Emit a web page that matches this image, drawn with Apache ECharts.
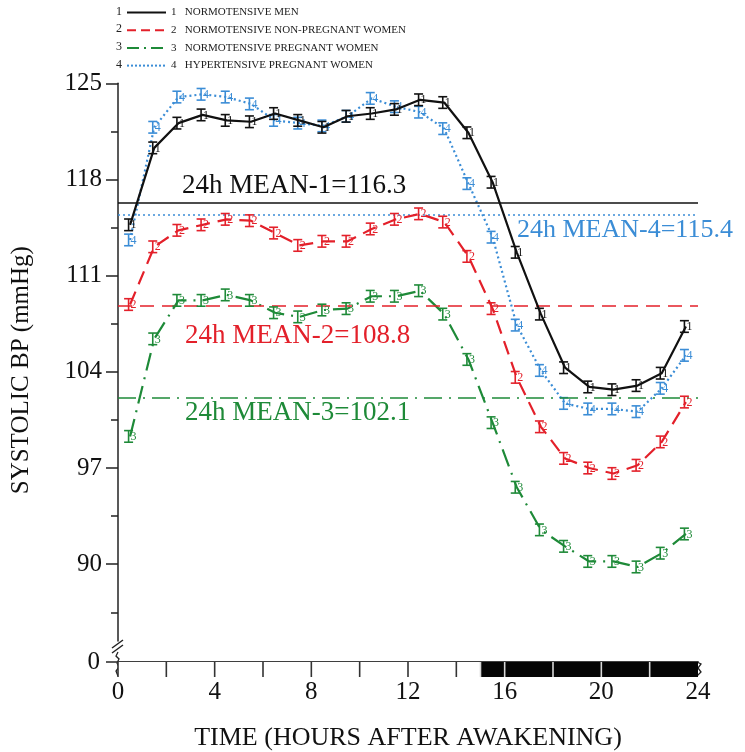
<!DOCTYPE html>
<html><head><meta charset="utf-8">
<script src="https://cdn.jsdelivr.net/npm/echarts@6/dist/echarts.min.js"></script>
<style>html,body{margin:0;padding:0;background:#fff}#c{width:745px;height:752px}</style>
</head><body><div id="c"></div>
<script>
const hours = [0.5,1.5,2.5,3.5,4.5,5.5,6.5,7.5,8.5,9.5,10.5,11.5,12.5,13.5,14.5,15.5,16.5,17.5,18.5,19.5,20.5,21.5,22.5,23.5];
const groupNames = ['NORMOTENSIVE MEN','NORMOTENSIVE NON-PREGNANT WOMEN','NORMOTENSIVE PREGNANT WOMEN','HYPERTENSIVE PREGNANT WOMEN'];
const groupNumbers = ['1','2','3','4'];
const normotensiveMen = [114.7,120.3,122.1,122.7,122.3,122.2,122.8,122.3,121.8,122.6,122.8,123.1,123.8,123.6,121.4,117.8,112.7,108.2,104.3,102.9,102.7,103.0,103.9,107.3];
const nonPregnantWomen = [108.9,113.1,114.3,114.7,115.1,115.0,114.1,113.2,113.5,113.5,114.4,115.1,115.5,114.9,112.4,108.6,103.6,100.0,97.7,97.0,96.6,97.2,98.9,101.8];
const pregnantWomen = [99.3,106.4,109.2,109.2,109.6,109.2,108.3,108.0,108.5,108.6,109.5,109.5,109.9,108.2,104.9,100.3,95.6,92.5,91.3,90.2,90.2,89.8,90.8,92.2];
const hypertensivePregnant = [113.6,121.8,124.0,124.2,124.0,123.5,122.3,122.1,121.9,122.6,123.9,123.3,122.9,121.7,117.7,113.8,107.4,104.1,101.7,101.3,101.3,101.1,102.8,105.2];
const meanValues = [116.3,108.8,102.1,115.4];
const seValues = [0.35,0.35,0.35,0.35];
const yMajorTicks = [90,97,104,111,118,125];
const yMinorTicks = [86.5,93.5,100.5,107.5,114.5,121.5];
const xTickInterval = 4;
const stripStart = [0,2,4,6,8,10,12,14,15,16,18,20,22];
const stripEnd   = [2,4,6,8,10,12,14,15,16,18,20,22,24];
const stripDark  = [0,0,0,0,0,0,0,0,1,1,1,1,1];

const FONT = 'Liberation Serif';
const colors = ['#111111','#e3202a','#1e8a38','#3b8dd6'];
const dashes = ['solid',[14,8],[18,7,2,7],[2,3]];
const legendDashes = ['solid',[9,5],[12,5,2,5],[2,2]];
const allValues = [normotensiveMen, nonPregnantWomen, pregnantWomen, hypertensivePregnant];
const meanLabelPos = [
  {position:'insideStartTop', distance:[64,3], size:27},
  {position:'insideStartBottom', distance:[67,17], size:27},
  {position:'insideStartBottom', distance:[67,1], size:27},
  {position:'insideStartBottom', distance:[399,2], size:26}
];

const chart = echarts.init(document.getElementById('c'), null, {renderer:'canvas'});
const series = [];
const drawOrder = [3,2,1,0];
drawOrder.forEach(function(i){
  const vals = allValues[i];
  series.push({
    name: groupNames[i], type:'line', xAxisIndex:0, yAxisIndex:0,
    data: hours.map(function(h,j){return [h, vals[j]];}),
    symbol:'none', smooth:false, z: 3 + (3-i),
    color: colors[i],
    lineStyle:{color:colors[i], width:2.2, type:dashes[i]},
    markLine:{
      silent:true, symbol:'none', animation:false,
      data:[{yAxis: meanValues[i]}],
      lineStyle:{color:colors[i], width:1.5, type:dashes[i]},
      label:{show:true, position:meanLabelPos[i].position, distance:meanLabelPos[i].distance,
        formatter: '24h MEAN-' + groupNumbers[i] + '=' + meanValues[i].toFixed(1),
        fontFamily:FONT, fontSize:meanLabelPos[i].size, color:colors[i]}
    }
  });
  series.push({
    name: groupNames[i], type:'custom', xAxisIndex:0, yAxisIndex:0, z: 4 + (3-i),
    data: hours.map(function(h,j){return [h, vals[j], seValues[i]];}),
    encode:{x:0, y:1},
    renderItem: function(params, api){
      const x = api.value(0), y = api.value(1), se = api.value(2);
      const c = api.coord([x, y]);
      const t = api.coord([x, y + se]);
      const b = api.coord([x, y - se]);
      const w = 4.5, col = colors[i];
      const st = {stroke:col, lineWidth:1.6};
      return {type:'group', children:[
        {type:'line', shape:{x1:c[0]-1.5, y1:t[1]-1, x2:c[0]-1.5, y2:b[1]+1}, style:st},
        {type:'line', shape:{x1:c[0]-1.5-w, y1:t[1]-1, x2:c[0]-1.5+w, y2:t[1]-1}, style:st},
        {type:'line', shape:{x1:c[0]-1.5-w, y1:b[1]+1, x2:c[0]-1.5+w, y2:b[1]+1}, style:st},
        {type:'text', style:{text:groupNumbers[i], x:c[0]+0.5, y:c[1]+0.5, fill:col,
          font:'12px "' + FONT + '"', verticalAlign:'middle', align:'left'}}
      ]};
    }
  });
});
series.push({
  type:'custom', xAxisIndex:1, yAxisIndex:2, silent:true,
  data: stripStart.map(function(s,i){return [s, stripEnd[i], stripDark[i]];}),
  encode:{x:[0,1]},
  renderItem: function(params, api){
    const s = api.value(0), e = api.value(1), dark = api.value(2);
    const p0 = api.coord([s, 0]);
    const p1 = api.coord([e, 1]);
    return {type:'group', children:[
      {type:'rect', shape:{x:p0[0], y:p0[1], width:p1[0]-p0[0], height:p1[1]-p0[1]}, style:{fill: dark ? '#050505' : '#ffffff'}},
      {type:'line', shape:{x1:p0[0], y1:p0[1], x2:p0[0], y2:p1[1]}, style:{stroke: dark ? '#d8d8d8' : '#333', lineWidth:1.6}}
    ]};
  }
});

const legendRowY = [12, 29.7, 47.4, 65.1];
const graphics = groupNumbers.map(function(n,k){
  return {type:'text', left:116, top:legendRowY[k]-6.5, style:{text:n, font:'12px "' + FONT + '"', fill:'#222'}};
});
graphics.push({type:'line', shape:{x1:112, y1:648, x2:123, y2:640}, style:{stroke:'#222', lineWidth:1.4}});
graphics.push({type:'line', shape:{x1:112, y1:653, x2:123, y2:645}, style:{stroke:'#222', lineWidth:1.4}});
graphics.push({type:'polyline', shape:{points:[[118,652],[116,656],[119,659],[117,663],[119,667],[116,671],[118,676]]}, style:{stroke:'#222', lineWidth:1.3, fill:null}});
graphics.push({type:'polyline', shape:{points:[[697,662],[701,664],[698,668],[701,672],[697,676]]}, style:{stroke:'#222', lineWidth:1.3, fill:null}});

chart.setOption({
  animation:false,
  backgroundColor:'#fff',
  textStyle:{fontFamily:FONT},
  legend:{
    orient:'vertical', left:126, top:7, padding:0, itemWidth:39, itemHeight:12, itemGap:6.7,
    itemStyle:{opacity:0},
    data: groupNames.map(function(n,k){ return {name:n, lineStyle:{type:legendDashes[k], width:2}}; }),
    formatter: function(name){ const k = groupNames.indexOf(name); return groupNumbers[k] + '   ' + name; },
    textStyle:{fontFamily:FONT, fontSize:11, color:'#222'}
  },
  graphic: graphics,
  grid:[
    {left:118, right:47, top:83.3, bottom:111},
    {left:118, right:47, top:662, height:15}
  ],
  xAxis:[
    {gridIndex:0, type:'value', min:0, max:24, show:false},
    {gridIndex:1, type:'value', min:0, max:24, interval:xTickInterval, position:'bottom',
      axisLine:{show:true, lineStyle:{color:'#333', width:1.6}}, axisTick:{show:false},
      splitLine:{show:false},
      axisLabel:{fontFamily:FONT, fontSize:25, color:'#111', margin:3},
      name:'TIME (HOURS AFTER AWAKENING)', nameLocation:'middle', nameGap:48,
      nameTextStyle:{fontFamily:FONT, fontSize:26, color:'#111'}},
    {gridIndex:1, type:'value', min:0, max:24, position:'top',
      axisLine:{show:true, lineStyle:{color:'#333', width:1.6}}, axisTick:{show:false},
      axisLabel:{show:false}, splitLine:{show:false}}
  ],
  yAxis:[
    {gridIndex:0, type:'value', min:84.41, max:125, position:'left',
      axisLine:{show:true, lineStyle:{color:'#222', width:1.5}},
      axisTick:{show:true, customValues:yMajorTicks, length:12, lineStyle:{color:'#222', width:1.5}},
      axisLabel:{customValues:yMajorTicks, fontFamily:FONT, fontSize:25, color:'#111', margin:16},
      splitLine:{show:false},
      name:'SYSTOLIC BP (mmHg)', nameLocation:'middle', nameGap:84,
      nameTextStyle:{fontFamily:FONT, fontSize:25, color:'#111', padding:[0,0,0,-16]}},
    {gridIndex:0, type:'value', min:84.41, max:125, position:'left',
      axisLine:{show:false},
      axisTick:{show:true, customValues:yMinorTicks, length:7, lineStyle:{color:'#222', width:1.5}},
      axisLabel:{show:false}, splitLine:{show:false}},
    {gridIndex:1, type:'value', min:0, max:1, inverse:true, position:'left',
      axisLine:{show:false},
      axisTick:{show:true, customValues:[0], length:12, lineStyle:{color:'#333', width:1.6}},
      axisLabel:{customValues:[0], fontFamily:FONT, fontSize:25, color:'#111', margin:18},
      splitLine:{show:false}}
  ],
  series: series
});
</script></body></html>
